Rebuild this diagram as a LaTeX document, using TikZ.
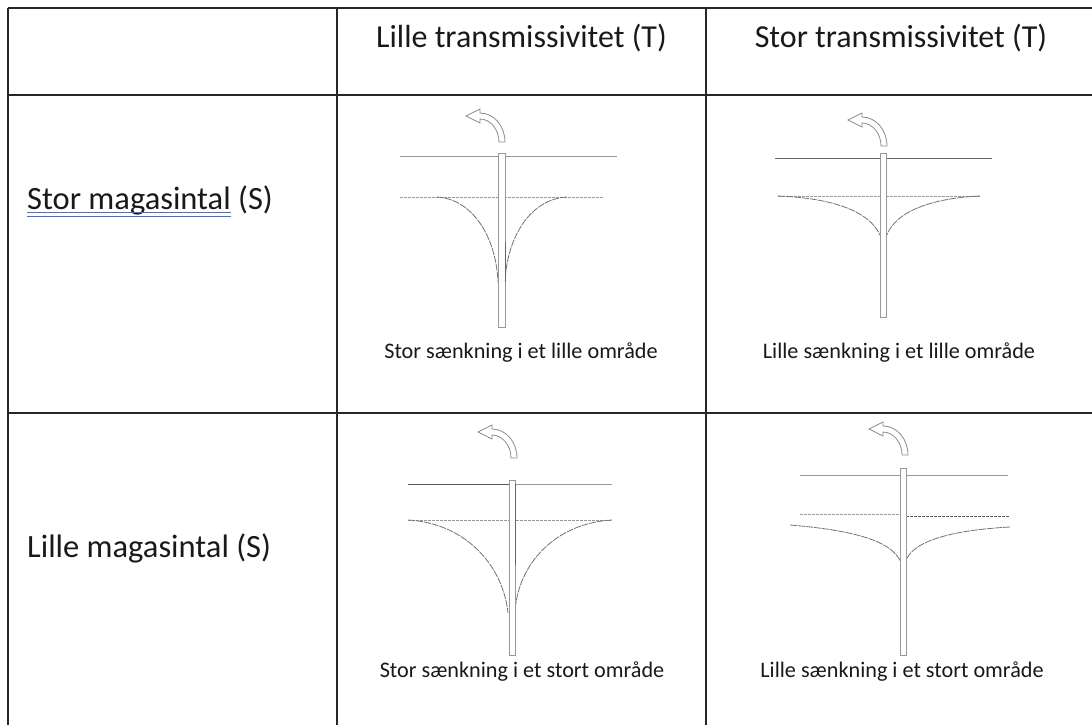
\documentclass[tikz,border=0pt]{standalone}
\usepackage{fontspec}
\setmainfont{Carlito}
\begin{document}
\begin{tikzpicture}[x=1pt,y=-1pt,
  tablerule/.style={draw=black!85,line width=1.8pt},
  groundline/.style={draw=black!40,line width=0.9pt},
  wlevel/.style={draw=black!40,line width=0.9pt,dash pattern=on 2.5pt off 1.5pt},
  conecurve/.style={draw=black!55,line width=0.8pt,dash pattern=on 7pt off 1pt},
  wellpipe/.style={draw=black!40,line width=0.8pt,fill=white},
  screenline/.style={draw=black!60,line width=0.9pt},
  pumpflow/.style={draw=black!45,line width=0.8pt,fill=white},
  hdrtext/.style={font=\fontsize{32}{37}\selectfont,text=black!90,anchor=base,inner sep=0pt},
  rowtext/.style={font=\fontsize{32.5}{37}\selectfont,text=black!90,anchor=base west,inner sep=0pt},
  captext/.style={font=\fontsize{22.2}{26}\selectfont,text=black!90,anchor=base,inner sep=0pt},
  pumparrow/.pic={
    \draw[pumpflow] (3,0) .. controls (3,-16) and (-8,-29) .. (-22,-29)
      -- (-22,-33) -- (-36,-26) -- (-22,-19) -- (-22,-23)
      .. controls (-12,-23) and (-3,-13) .. (-3,0) -- cycle;
  }]
\useasboundingbox (0,0) rectangle (1092,724);
\fill[white] (0,0) rectangle (1092,724);

% table rules
\draw[tablerule] (8,8) -- (1100,8);
\draw[tablerule] (8,95) -- (1100,95);
\draw[tablerule] (8,413) -- (1100,413);
\draw[tablerule] (8,8) -- (8,730);
\draw[tablerule] (337,8) -- (337,730);
\draw[tablerule] (706,8) -- (706,730);
\draw[tablerule] (1096,8) -- (1096,730);

% headers and row labels
\node[hdrtext] (hA) at (521.5,47) {Lille transmissivitet (T)};
\node[hdrtext] (hB) at (901,47) {Stor transmissivitet (T)};
\node[rowtext] (rA) at (27,209) {Stor magasintal};
\node[rowtext] (rAs) at ([xshift=7pt]rA.base east) {(S)};
\node[rowtext] (rB) at (27,557) {Lille magasintal (S)};
% spell-check underline below the first row label
\draw[draw={rgb,255:red,70;green,110;blue,220},line width=1.3pt]
  ([yshift=-3.5pt]rA.base west) -- ([yshift=-3.5pt]rA.base east)
  ([yshift=-7.5pt]rA.base west) -- ([yshift=-7.5pt]rA.base east);

% captions
\node[captext] (cA) at (521,358) {Stor sænkning i et lille område};
\node[captext] (cB) at (899,358) {Lille sænkning i et lille område};
\node[captext] (cC) at (522,677) {Stor sænkning i et stort område};
\node[captext] (cD) at (902,677) {Lille sænkning i et stort område};

% cell: large S, small T
\draw[groundline] (400,156) -- (617,156);
\draw[wlevel] (400,197) -- (603,197);
\draw[conecurve] (437,197) .. controls (472,199) and (496,236) .. (498,282);
\draw[conecurve] (567,197) .. controls (531,199) and (507,236) .. (505,282);
\draw[wellpipe] (498,153) rectangle (505,327);
\draw[screenline] (505,242) -- (505,282);
\pic at (502,142) {pumparrow};

% cell: large S, large T
\draw[groundline,draw=black!60] (775,158) -- (992,158);
\draw[wlevel] (778,196) -- (980,196);
\draw[conecurve] (778,196) .. controls (830,198) and (870,210) .. (881,237);
\draw[conecurve] (980,196) .. controls (935,198) and (895,210) .. (886,237);
\draw[wellpipe] (880,153) rectangle (886,317);
\pic at (884,146) {pumparrow};

% cell: small S, small T
\draw[groundline] (408,484) -- (612,484);
\draw[groundline,draw=black!65] (408,484) -- (509,484);
\draw[wlevel] (408,520) -- (612,520);
\draw[conecurve] (408,520) .. controls (465,523) and (503,565) .. (508,613);
\draw[conecurve] (612,520) .. controls (555,523) and (517,565) .. (515,613);
\draw[wellpipe] (509,480) rectangle (515,655);
\draw[screenline] (515,484) -- (515,565);
\pic at (514,458) {pumparrow};

% cell: small S, large T
\draw[groundline] (800,475) -- (1008,475);
\draw[wlevel] (800,514) -- (900,514);
\draw[wlevel,draw=black!65] (906,516) -- (1010,516);
\draw[conecurve] (790,525) .. controls (850,530) and (893,540) .. (901,563);
\draw[conecurve] (1010,527) .. controls (955,530) and (911,540) .. (905,563);
\draw[wellpipe] (900,468) rectangle (906,655);
\pic at (905,455) {pumparrow};
\end{tikzpicture}
\end{document}
